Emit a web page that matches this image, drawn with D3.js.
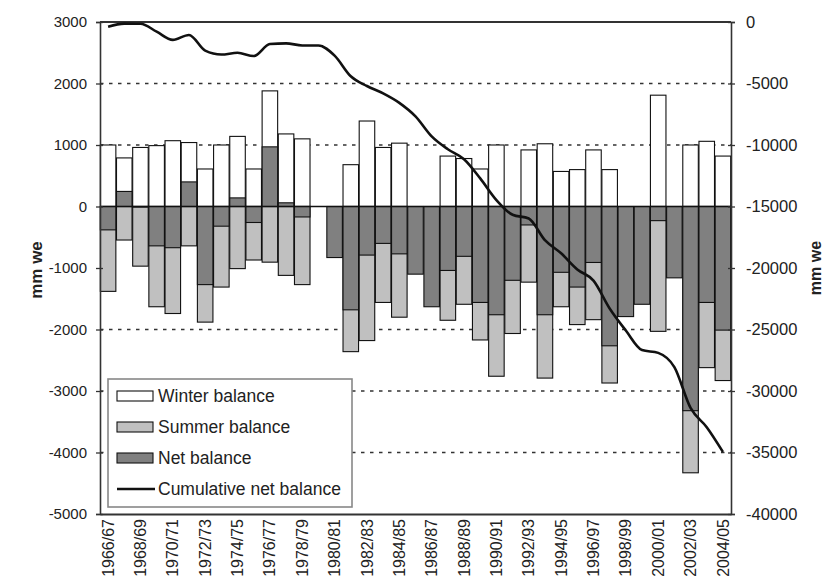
<!DOCTYPE html>
<html>
<head>
<meta charset="utf-8">
<script src="https://cdn.jsdelivr.net/npm/d3@7"></script>
<style>
  html, body { margin: 0; padding: 0; background: #fff; }
  svg { display: block; font-family: "Liberation Sans", Arial, sans-serif; }
</style>
</head>
<body>
<svg id="chart" width="827" height="588"></svg>
<script>
// Glacier mass balance by hydrological year (mm water equivalent)
const years = [
  "1966/67","1967/68","1968/69","1969/70","1970/71","1971/72","1972/73","1973/74",
  "1974/75","1975/76","1976/77","1977/78","1978/79","1979/80","1980/81","1981/82",
  "1982/83","1983/84","1984/85","1985/86","1986/87","1987/88","1988/89","1989/90",
  "1990/91","1991/92","1992/93","1993/94","1994/95","1995/96","1996/97","1997/98",
  "1998/99","1999/00","2000/01","2001/02","2002/03","2003/04","2004/05"
];

const winterBalance = [
  1000, 790, 960, 990, 1070, 1040, 610, 1000, 1140, 610, 1880, 1180, 1100, null, null, 680,
  1390, 960, 1030, null, null, 820, 780, 610, 1000, null, 920, 1020, 570, 600, 920, 600,
  null, null, 1810, null, 1000, 1060, 820
];

const summerBalance = [
  -1380, -545, -970, -1630, -1740, -640, -1880, -1310, -1010, -870, -905, -1120, -1270, null, null, -2360,
  -2180, -1560, -1800, null, null, -1850, -1590, -2170, -2760, -2065, -1230, -2790, -1630, -1920, -1840, -2870,
  null, null, -2030, null, -4330, -2620, -2830
];

const netBalance = [
  -380, 245, -10, -640, -670, 400, -1270, -320, 140, -260, 970, 60, -170, null, -830, -1680,
  -790, -600, -770, -1100, -1630, -1040, -810, -1560, -1760, -1200, -300, -1760, -1070, -1310, -910, -2265,
  -1790, -1590, -230, -1160, -3320, -1560, -2010
];

const cumulativeBalance = [
  -380, -135, -145, -785, -1455, -1055, -2325, -2645, -2505, -2765, -1795, -1735, -1905, -1905, -2735, -4415,
  -5205, -5805, -6575, -7675, -9305, -10345, -11155, -12715, -14475, -15675, -15975, -17735, -18805, -20115, -21025, -23290,
  -25080, -26670, -26900, -28060, -31380, -32940, -34950
];

const leftTicks = [3000, 2000, 1000, 0, -1000, -2000, -3000, -4000, -5000];
const rightTicks = [0, -5000, -10000, -15000, -20000, -25000, -30000, -35000, -40000];
const gridValues = [2000, 1000, -2000, -3000, -4000];
const legendLabels = ["Winter balance", "Summer balance", "Net balance", "Cumulative net balance"];
const axisTitle = "mm we";

const svg = d3.select("#chart");
const plot = { left: 100, right: 731, top: 22, bottom: 514 };
const font = "'Liberation Sans', Arial, sans-serif";
const fmt = d => String(d);

const x = d3.scaleBand().domain(years).range([plot.left, plot.right])
  .paddingInner(0.04).paddingOuter(0.02);
const yL = d3.scaleLinear().domain([-5000, 3000]).range([plot.bottom, plot.top]);
const yR = d3.scaleLinear().domain([-40000, 0]).range([plot.bottom, plot.top]);

const colors = { winter: "#ffffff", summer: "#c0c0c0", net: "#808080" };

// dashed horizontal gridlines
svg.append("g").selectAll("line").data(gridValues).join("line")
  .attr("x1", plot.left).attr("x2", plot.right)
  .attr("y1", d => yL(d)).attr("y2", d => yL(d))
  .attr("stroke", "#333").attr("stroke-width", 1.3)
  .attr("stroke-dasharray", "3.5,5.5");

// overlapping bars, all starting from zero
function drawBars(values, fill) {
  const data = years.map((yr, i) => ({ yr, v: values[i] })).filter(d => d.v !== null);
  svg.append("g").selectAll("rect").data(data).join("rect")
    .attr("x", d => x(d.yr))
    .attr("width", x.bandwidth())
    .attr("y", d => yL(Math.max(0, d.v)))
    .attr("height", d => Math.abs(yL(d.v) - yL(0)))
    .attr("fill", fill)
    .attr("stroke", "#111")
    .attr("stroke-width", 1.1);
}
drawBars(winterBalance, colors.winter);
drawBars(summerBalance, colors.summer);
drawBars(netBalance, colors.net);

// zero line
svg.append("line")
  .attr("x1", plot.left).attr("x2", plot.right)
  .attr("y1", yL(0)).attr("y2", yL(0))
  .attr("stroke", "#111").attr("stroke-width", 1.3);

// top of the frame
svg.append("line").attr("x1", plot.left).attr("x2", plot.right)
  .attr("y1", plot.top).attr("y2", plot.top)
  .attr("stroke", "#333").attr("stroke-width", 2);

// left axis
const axL = svg.append("g").attr("transform", `translate(${plot.left},0)`)
  .call(d3.axisLeft(yL).tickValues(leftTicks).tickSize(4).tickPadding(9).tickFormat(fmt));
axL.select(".domain").attr("stroke", "#333").attr("stroke-width", 1.6);
axL.selectAll(".tick line").attr("x1", 3).attr("stroke", "#333").attr("stroke-width", 1.3);
axL.selectAll(".tick text").attr("font-size", 15).attr("fill", "#222").style("font-family", font);

// right axis
const axR = svg.append("g").attr("transform", `translate(${plot.right},0)`)
  .call(d3.axisRight(yR).tickValues(rightTicks).tickSize(4).tickPadding(11).tickFormat(fmt));
axR.select(".domain").attr("stroke", "#333").attr("stroke-width", 1.6);
axR.selectAll(".tick line").attr("x1", -3).attr("stroke", "#333").attr("stroke-width", 1.3);
axR.selectAll(".tick text").attr("font-size", 16.5).attr("fill", "#222").style("font-family", font);

// bottom axis with every second year labelled
const axB = svg.append("g").attr("transform", `translate(0,${plot.bottom})`)
  .call(d3.axisBottom(x).tickSize(0).tickValues(years.filter((d, i) => i % 2 === 0)));
axB.select(".domain").attr("stroke", "#333").attr("stroke-width", 2);
axB.selectAll(".tick text")
  .attr("font-size", 16).attr("fill", "#222")
  .style("font-family", font)
  .attr("text-anchor", "end")
  .attr("transform", "rotate(-90)")
  .attr("x", -5).attr("y", 0).attr("dy", "0.35em");

// cumulative net balance line on the right axis
const line = d3.line()
  .x((d, i) => x(years[i]) + x.bandwidth() / 2)
  .y(d => yR(d))
  .curve(d3.curveMonotoneX);
svg.append("path").datum(cumulativeBalance)
  .attr("d", line).attr("fill", "none")
  .attr("stroke", "#111").attr("stroke-width", 2.6).attr("stroke-linejoin", "round");

// axis titles
svg.append("text").attr("transform", "translate(42,270) rotate(-90)")
  .attr("text-anchor", "middle").attr("font-size", 17).attr("font-weight", "bold")
  .attr("fill", "#222").text(axisTitle);
svg.append("text").attr("transform", "translate(821,268) rotate(-90)")
  .attr("text-anchor", "middle").attr("font-size", 16).attr("font-weight", "bold")
  .attr("fill", "#222").text(axisTitle);

// legend
const lg = svg.append("g");
lg.append("rect").attr("x", 108).attr("y", 379).attr("width", 244).attr("height", 128)
  .attr("fill", "#fff").attr("stroke", "#888").attr("stroke-width", 1.6);
const legendFills = [colors.winter, colors.summer, colors.net, null];
legendLabels.forEach((lab, i) => {
  const cy = 396 + i * 31;
  if (legendFills[i] !== null) {
    lg.append("rect").attr("x", 117).attr("y", cy - 5).attr("width", 36).attr("height", 10)
      .attr("fill", legendFills[i]).attr("stroke", "#111").attr("stroke-width", 1.1);
  } else {
    lg.append("line").attr("x1", 117).attr("x2", 155).attr("y1", cy).attr("y2", cy)
      .attr("stroke", "#111").attr("stroke-width", 2.6);
  }
  lg.append("text").attr("x", 158).attr("y", cy).attr("dy", "0.36em")
    .attr("font-size", 17.5).attr("fill", "#222").text(lab);
});
</script>
</body>
</html>
